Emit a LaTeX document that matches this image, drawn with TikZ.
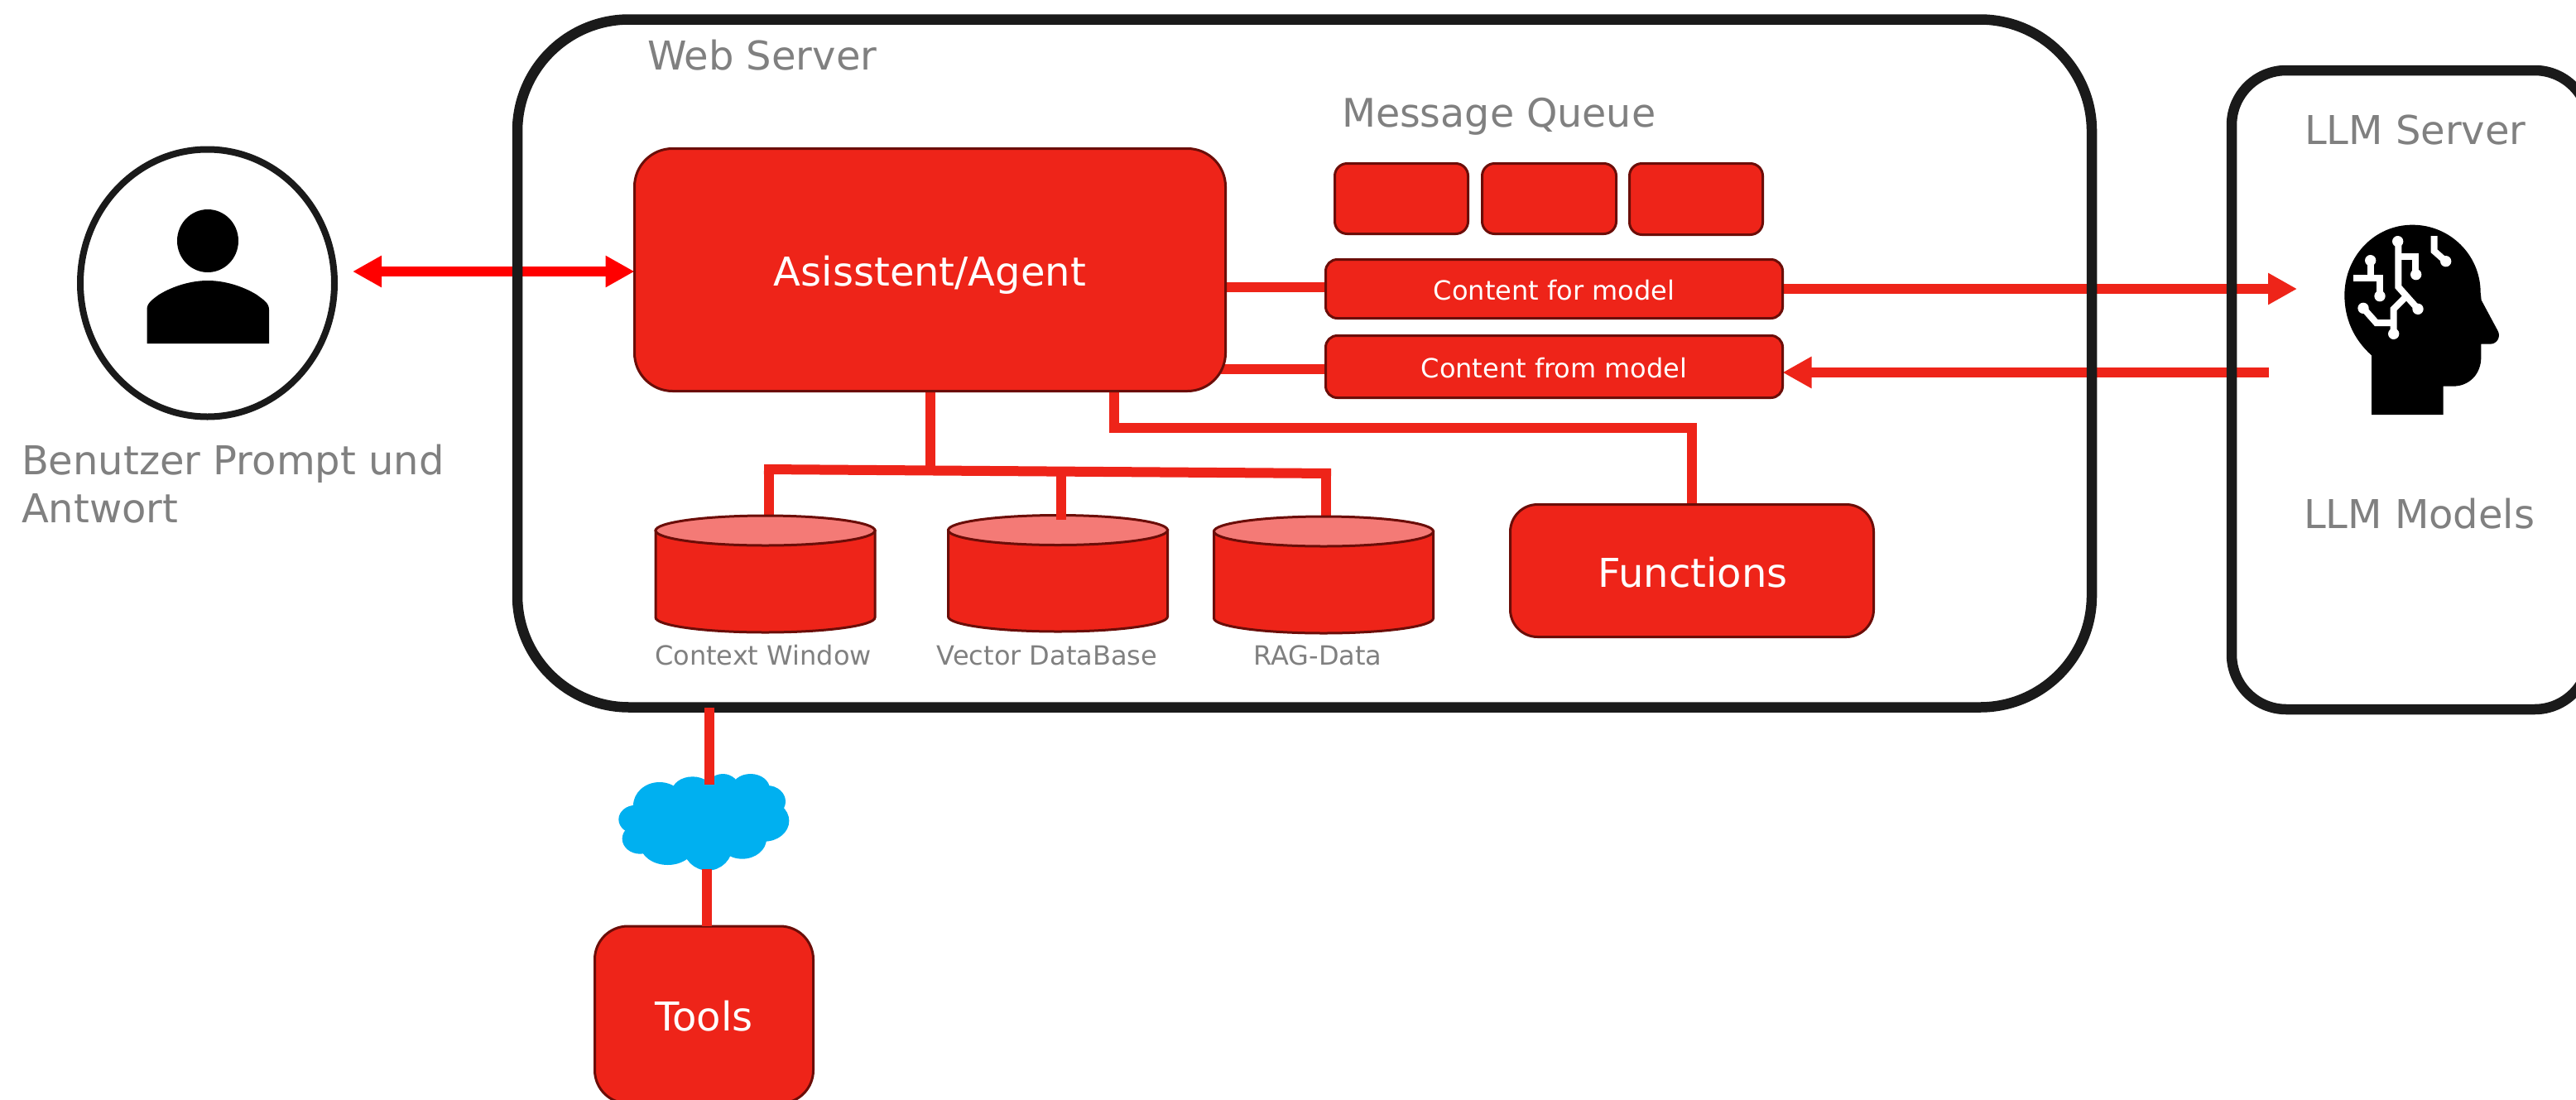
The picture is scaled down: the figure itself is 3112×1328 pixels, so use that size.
\documentclass[tikz,border=0pt]{standalone}
\usepackage{fontspec}
\setmainfont{DejaVu Sans}
\usetikzlibrary{arrows.meta,shapes.geometric}
\definecolor{fillred}{HTML}{EE2419}
\definecolor{edgered}{HTML}{6B0D08}
\definecolor{toplight}{HTML}{F47A76}
\definecolor{framek}{HTML}{1A1A1A}
\definecolor{labelgrey}{HTML}{808080}
\definecolor{cloudblue}{HTML}{00B0F0}
\pgfdeclarelayer{back}
\pgfsetlayers{back,main}
\tikzset{
  big/.style={font=\fontsize{48}{58}\selectfont},
  small/.style={font=\fontsize{32}{38}\selectfont},
  frame/.style={draw=framek,line width=12.5pt,inner sep=0,outer sep=0,fill=none},
  redbox/.style={draw=edgered,line width=3pt,fill=fillred,inner sep=0,outer sep=0,text=white},
  dbbody/.style={draw=edgered,line width=3pt,fill=fillred},
  dbtop/.style={draw=edgered,line width=3pt,fill=toplight},
  link/.style={draw=fillred,line width=12pt},
  greytext/.style={text=labelgrey,inner sep=0,outer sep=0},
  headtip/.style={-{Triangle[length=35pt,width=36pt]}},
}
\newcommand{\chip}[1]{\fill[white] #1 circle (20);}
% name, centre x, top y, bottom y
\newcommand{\dbcyl}[4]{%
  \coordinate (#1) at (#2,#3);
  \path[dbbody] (#2-132.5,#3+18) -- (#2-132.5,#4-18)
    arc[start angle=180,end angle=0,x radius=132.5,y radius=18]
    -- (#2+132.5,#3+18) -- cycle;
  \path[dbtop] (#2,#3+18) ellipse [x radius=132.5,y radius=18];
}
\begin{document}
\begin{tikzpicture}[x=1pt,y=-1pt]
\useasboundingbox (0,0) rectangle (3112,1328);
\begin{pgfonlayer}{back}
\fill[white] (0,0) rectangle (3112,1328);
\end{pgfonlayer}

% frames
\node[frame,rounded corners=135pt,minimum width=1902pt,minimum height=831pt] (web) at (1576,439) {};
\node[frame,rounded corners=66pt,minimum width=432pt,minimum height=772pt] (llm) at (2912,471) {};
\node[ellipse,draw=framek,line width=8pt,inner sep=0,outer sep=0,minimum width=307pt,minimum height=323pt] (user) at (250.5,342) {};

% boxes
\node[redbox,rounded corners=46pt,minimum width=714pt,minimum height=293pt] (agent) at (1123.5,326) {};
\node[text=white,big,inner sep=0] (agenttext) at (1123.5,332) {Asisstent/Agent};
\node[redbox,rounded corners=15pt,minimum width=161pt,minimum height=85pt] (q1) at (1693,240) {};
\node[redbox,rounded corners=15pt,minimum width=162pt,minimum height=85pt] (q2) at (1871.5,240) {};
\node[redbox,rounded corners=15pt,minimum width=161pt,minimum height=86pt] (q3) at (2049,240.5) {};
\node[redbox,rounded corners=14pt,minimum width=552pt,minimum height=71pt] (cfor) at (1877.5,349) {};
\node[text=white,small,inner sep=0] (cfortext) at (1877.5,351) {Content for model};
\node[redbox,rounded corners=14pt,minimum width=552pt,minimum height=75pt] (cfrom) at (1877.5,443) {};
\node[text=white,small,inner sep=0] (cfromtext) at (1877.5,445) {Content from model};
\node[redbox,rounded corners=33pt,minimum width=439pt,minimum height=160pt] (functions) at (2044,689.5) {};
\node[text=white,big,inner sep=0,anchor=base] (functionstext) at (2045,709) {Functions};
\node[redbox,rounded corners=40pt,minimum width=264pt,minimum height=214pt] (tools) at (850.5,1226) {};
\node[text=white,big,inner sep=0] (toolstext) at (850.5,1228) {Tools};

% labels
\node[greytext,big,anchor=base west] (lweb) at (782,84) {Web Server};
\node[greytext,anchor=base west,font=\fontsize{47.5}{58}\selectfont] (lqueue) at (1621,153) {Message Queue};
\node[greytext,big,anchor=base west] (lllm) at (2784,174) {LLM Server};
\node[greytext,big,anchor=base west] (lmodels) at (2783,638) {LLM Models};
\node[greytext,big,anchor=north west,align=left] (luser) at (26,537.5) {Benutzer Prompt und\\Antwort};
\node[greytext,small,anchor=base] (lctx) at (922,803) {Context Window};
\node[greytext,small,anchor=base] (lvec) at (1265,803) {Vector DataBase};
\node[greytext,small,anchor=base] (lrag) at (1592,803) {RAG-Data};

% free ends
\coordinate (userend) at (426,328);
\coordinate (headin) at (2775,349);
\coordinate (headout) at (2741,450);
\coordinate (cloudin) at (857,948);
\coordinate (cloudout) at (854,1050);
\coordinate (hubl) at (923,567);
\coordinate (hubm) at (1124,568.5);
\coordinate (hubr) at (1608,572);

% databases
\dbcyl{ctx}{924.5}{623}{764}
\dbcyl{vec}{1278}{622.5}{763}
\dbcyl{rag}{1599}{624}{765}

% connectors under the boxes
\begin{pgfonlayer}{back}
\draw[draw=red,line width=12pt,{Triangle[length=35pt,width=36pt]}-{Triangle[length=35pt,width=36pt]},fill=red] (userend) -- (userend -| agent.west);
\draw[link] (agent.east |- 0,347) -- (cfor.west |- 0,347);
\draw[link] (1475,446) -- (cfrom.west |- 0,446);
\draw[link,headtip,fill=fillred] (cfor.east |- headin) -- (headin);
\draw[link,headtip,fill=fillred] (headout) -- (cfrom.east |- headout);
\draw[link] (1124,473) -- (hubm);
\draw[link] (hubl) -- (hubr);
\draw[link] (929,567) -- (929,0 |- ctx);
\draw[link] (1602,572) -- (1602,0 |- rag);
\draw[link] (1346,473) -- (1346,517) -- (functions.north |- 0,517) -- (functions.north);
\end{pgfonlayer}
\draw[link] (1282,570) -- (1282,628);

% cloud
\begin{scope}[xshift=680pt,yshift=-840pt,x=0.33333pt,y=-0.33333pt,fill=cloudblue]
\fill (350,400) ellipse [x radius=95,y radius=85];
\fill (470,350) ellipse [x radius=75,y radius=55];
\fill (580,340) ellipse [x radius=60,y radius=55];
\fill (680,340) ellipse [x radius=70,y radius=55];
\fill (740,385) ellipse [x radius=67,y radius=58];
\fill (730,455) ellipse [x radius=90,y radius=75];
\fill (650,520) ellipse [x radius=88,y radius=73];
\fill (525,545) ellipse [x radius=90,y radius=90];
\fill (380,540) ellipse [x radius=100,y radius=75];
\fill (280,520) ellipse [x radius=65,y radius=55];
\fill (265,450) ellipse [x radius=63,y radius=52];
\fill (500,450) ellipse [x radius=250,y radius=130];
\end{scope}
\draw[link] (cloudin |- web.south) -- (cloudin);
\draw[link] (cloudout) -- (cloudout |- tools.north);

% person
\fill[black] (251,291) ellipse [x radius=37,y radius=38];
\fill[black] (177.5,415) -- (177.5,374) .. controls (177.5,366) and (184,362) .. (192,356)
  .. controls (210,345) and (232,339) .. (251,339)
  .. controls (270,339) and (292,345) .. (310,356)
  .. controls (318,362) and (325,366) .. (325,374) -- (325,415) -- cycle;

% head with circuit
\begin{scope}[xshift=2700pt,yshift=-60pt,x=0.33333pt,y=-0.33333pt]
\fill[black] (495,1323) -- (495,1108) .. controls (430,1050) and (397,975) .. (397,890)
  .. controls (397,750) and (505,635) .. (643,635)
  .. controls (780,635) and (890,745) .. (890,880) -- (893,908) -- (952,1018)
  .. controls (965,1040) and (950,1067) .. (925,1067) -- (892,1067) -- (892,1115)
  .. controls (892,1175) and (850,1220) .. (790,1220) -- (755,1220) -- (755,1323) -- cycle;
\begin{scope}[draw=white,line width=8pt]
\draw (592,695) -- (592,860) -- (663,940);
\draw (592,750) -- (653,750) -- (653,815);
\draw (491,764) -- (491,828) -- (525,828) -- (525,893);
\draw (430,828) -- (525,828);
\draw (465,937) -- (512,990) -- (575,990);
\draw (575,1030) -- (575,940) -- (620,895);
\draw (722,675) -- (722,730) -- (765,768);
\end{scope}
\chip{(590,695)} \chip{(656,815)} \chip{(663,940)} \chip{(491,764)} \chip{(525,893)}
\chip{(465,937)} \chip{(575,1030)} \chip{(764,767)}
\end{scope}
\end{tikzpicture}
\end{document}
